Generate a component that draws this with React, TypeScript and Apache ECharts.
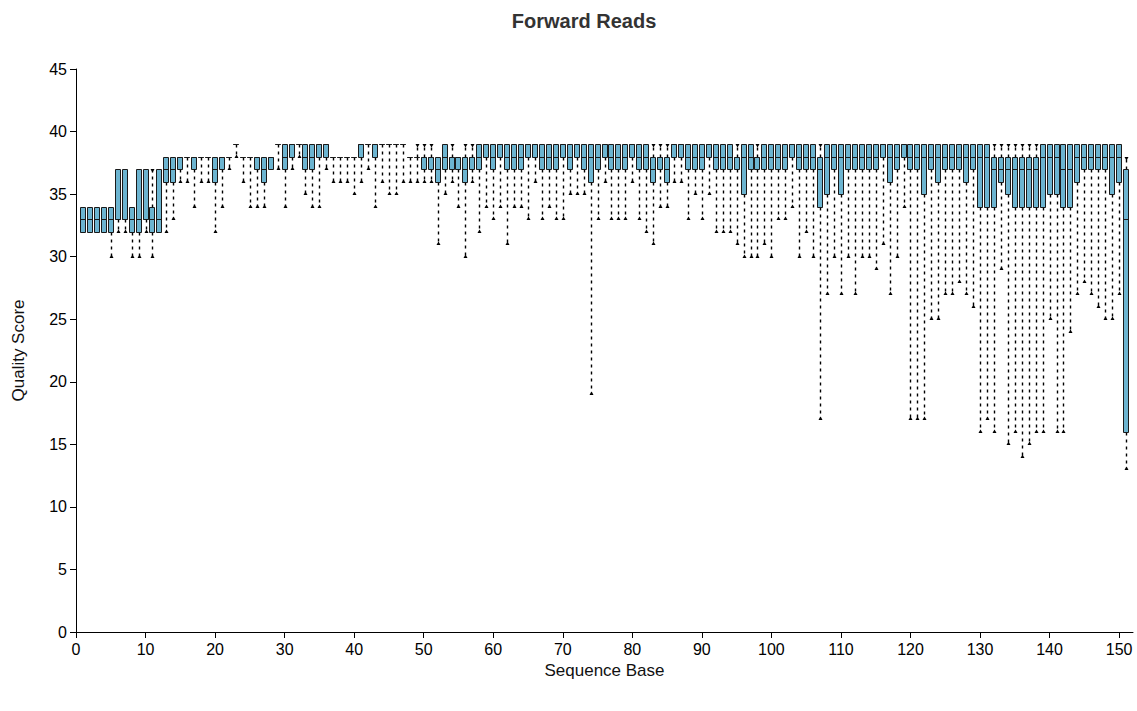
import React, { useEffect, useRef } from 'react';
import * as echarts from 'echarts';

// Per-base quality score summaries (bases 1..151)
const lowWhisker = [
  32, 32, 32, 32, 30, 32, 32, 30, 30, 32, 30, 32, 32, 33, 36, 36, 34, 36, 36, 32,
  34, 37, 38, 36, 34, 34, 34, 37, 37, 34, 37, 38, 35, 34, 34, 37, 36, 36, 36, 35,
  36, 37, 34, 36, 35, 35, 36, 36, 36, 36, 36, 31, 35, 36, 34, 30, 36, 32, 34, 33,
  34, 31, 34, 34, 33, 36, 33, 34, 33, 33, 35, 35, 35, 19, 33, 36, 33, 33, 33, 36,
  33, 32, 31, 34, 34, 36, 36, 33, 35, 33, 35, 32, 32, 32, 31, 30, 30, 30, 31, 30,
  33, 33, 34, 30, 32, 30, 17, 27, 30, 27, 30, 27, 30, 30, 29, 31, 27, 30, 34, 17,
  17, 17, 25, 25, 27, 27, 28, 27, 26, 16, 17, 16, 29, 15, 16, 14, 15, 16, 16, 25,
  16, 16, 24, 27, 28, 27, 26, 25, 25, 27, 13,
];
const q1 = [
  32, 32, 32, 32, 32, 33, 33, 32, 32, 33, 32, 32, 36, 36, 37, 38, 37, 38, 38, 36,
  37, 38, 39, 38, 38, 37, 36, 37, 39, 37, 38, 39, 37, 37, 38, 38, 38, 38, 38, 38,
  38, 39, 38, 39, 39, 39, 39, 38, 38, 37, 37, 36, 37, 37, 37, 36, 37, 37, 38, 37,
  38, 37, 37, 37, 38, 38, 37, 37, 37, 38, 37, 38, 37, 36, 37, 38, 37, 37, 37, 38,
  37, 37, 36, 37, 36, 38, 38, 37, 37, 37, 38, 37, 37, 37, 37, 35, 37, 37, 37, 37,
  37, 37, 38, 37, 37, 37, 34, 35, 37, 35, 37, 37, 37, 37, 37, 38, 36, 37, 38, 37,
  37, 35, 37, 36, 37, 37, 37, 36, 37, 34, 34, 34, 36, 35, 34, 34, 34, 34, 34, 35,
  35, 34, 34, 36, 37, 37, 37, 37, 35, 36, 16,
];
const median = [
  33, 33, 33, 33, 33, 33, 33, 33, 33, 33, 33, 33, 37, 37, 38, 38, 38, 38, 38, 37,
  38, 38, 39, 38, 38, 38, 37, 38, 39, 38, 39, 39, 38, 38, 39, 39, 38, 38, 38, 38,
  39, 39, 39, 39, 39, 39, 39, 38, 38, 38, 38, 37, 38, 38, 38, 37, 38, 38, 39, 38,
  39, 38, 38, 38, 39, 39, 38, 38, 38, 39, 38, 39, 38, 38, 38, 39, 38, 38, 38, 39,
  38, 38, 37, 38, 37, 39, 39, 38, 38, 38, 39, 38, 38, 38, 38, 38, 38, 38, 38, 38,
  38, 38, 39, 38, 38, 38, 37, 38, 38, 38, 38, 38, 38, 38, 38, 39, 38, 38, 39, 38,
  38, 38, 38, 38, 38, 38, 38, 38, 38, 38, 38, 37, 37, 37, 37, 37, 37, 37, 38, 38,
  38, 37, 37, 38, 38, 38, 38, 38, 38, 38, 33,
];
const q3 = [
  34, 34, 34, 34, 34, 37, 37, 34, 37, 37, 34, 37, 38, 38, 38, 38, 38, 38, 38, 38,
  38, 38, 39, 38, 38, 38, 38, 38, 39, 39, 39, 39, 39, 39, 39, 39, 38, 38, 38, 38,
  39, 39, 39, 39, 39, 39, 39, 38, 38, 38, 38, 38, 39, 38, 38, 38, 38, 39, 39, 39,
  39, 39, 39, 39, 39, 39, 39, 39, 39, 39, 39, 39, 39, 39, 39, 39, 39, 39, 39, 39,
  39, 39, 38, 38, 38, 39, 39, 39, 39, 39, 39, 39, 39, 39, 38, 39, 39, 38, 39, 39,
  39, 39, 39, 39, 39, 39, 38, 39, 39, 39, 39, 39, 39, 39, 39, 39, 39, 39, 39, 39,
  39, 39, 39, 39, 39, 39, 39, 39, 39, 39, 39, 38, 38, 38, 38, 38, 38, 38, 39, 39,
  39, 39, 39, 39, 39, 39, 39, 39, 39, 39, 37,
];
const highWhisker = [
  34, 34, 34, 34, 34, 37, 37, 34, 37, 37, 37, 37, 38, 38, 38, 38, 38, 38, 38, 38,
  38, 38, 39, 38, 38, 38, 38, 38, 39, 39, 39, 39, 39, 39, 39, 39, 38, 38, 38, 38,
  39, 39, 39, 39, 39, 39, 39, 38, 39, 39, 39, 38, 39, 39, 38, 39, 39, 39, 39, 39,
  39, 39, 39, 39, 39, 39, 39, 39, 39, 39, 39, 39, 39, 39, 39, 39, 39, 39, 39, 39,
  39, 39, 39, 39, 39, 39, 39, 39, 39, 39, 39, 39, 39, 39, 39, 39, 39, 39, 39, 39,
  39, 39, 39, 39, 39, 39, 39, 39, 39, 39, 39, 39, 39, 39, 39, 39, 39, 39, 39, 39,
  39, 39, 39, 39, 39, 39, 39, 39, 39, 39, 39, 39, 39, 39, 39, 39, 39, 39, 39, 39,
  39, 39, 39, 39, 39, 39, 39, 39, 39, 39, 38,
];

const xTicks = [0, 10, 20, 30, 40, 50, 60, 70, 80, 90, 100, 110, 120, 130, 140, 150];
const yTicks = [0, 5, 10, 15, 20, 25, 30, 35, 40, 45];

const FONT = "'Liberation Sans', Arial, Helvetica, sans-serif";
const BOX_FILL = '#6cb4d0';
const INK = '#000';

const crisp = (v: number) => Math.round(v) + 0.5;

export default function App() {
  const ref = useRef<HTMLDivElement>(null);

  useEffect(() => {
    if (!ref.current) return;
    const chart = echarts.init(ref.current, null, { renderer: 'svg' });

    const data = lowWhisker.map((lo, i) => [i + 1, lo, q1[i], median[i], q3[i], highWhisker[i]]);

    const renderItem = (params: any, api: any) => {
      const b = api.value(0);
      const vLow = api.value(1);
      const vQ1 = api.value(2);
      const vMed = api.value(3);
      const vQ3 = api.value(4);
      const vHigh = api.value(5);
      const yLow = crisp(api.coord([b, vLow])[1]);
      const yQ1 = crisp(api.coord([b, vQ1])[1]);
      const yMed = crisp(api.coord([b, vMed])[1]);
      const yQ3 = crisp(api.coord([b, vQ3])[1]);
      const yHigh = crisp(api.coord([b, vHigh])[1]);
      const cxi = Math.round(api.coord([b, vQ1])[0]);
      const wx = cxi + 0.5;
      const left = cxi - 2.5;
      const right = cxi + 2.5;
      const children: any[] = [];
      if (vLow < vQ1) {
        children.push({
          type: 'line',
          shape: { x1: wx, y1: yQ1, x2: wx, y2: yLow },
          style: { stroke: INK, lineWidth: 1.4, lineDash: [3, 4] },
        });
        children.push({
          type: 'polygon',
          shape: { points: [[wx - 2, yLow + 0.5], [wx + 2, yLow + 0.5], [wx, yLow - 3]] },
          style: { fill: INK },
        });
      }
      if (vHigh > vQ3) {
        children.push({
          type: 'line',
          shape: { x1: wx, y1: yQ3, x2: wx, y2: yHigh },
          style: { stroke: INK, lineWidth: 1.4, lineDash: [3, 4] },
        });
        children.push({
          type: 'polygon',
          shape: { points: [[wx - 2, yHigh - 0.5], [wx + 2, yHigh - 0.5], [wx, yHigh + 3]] },
          style: { fill: INK },
        });
      }
      children.push({
        type: 'rect',
        shape: { x: left, y: yQ3, width: right - left, height: Math.max(yQ1 - yQ3, 0.01) },
        style: { fill: BOX_FILL, stroke: '#1a1a1a', lineWidth: 1 },
      });
      children.push({
        type: 'line',
        shape: { x1: left, y1: yMed, x2: right, y2: yMed },
        style: { stroke: '#1a1a1a', lineWidth: 1 },
      });
      return { type: 'group', children };
    };

    chart.setOption({
      animation: false,
      backgroundColor: '#fff',
      textStyle: { fontFamily: FONT },
      graphic: [
        {
          type: 'text',
          x: 584,
          y: 21,
          style: {
            text: 'Forward Reads',
            align: 'center',
            verticalAlign: 'middle',
            fontSize: 20,
            fontWeight: 'bold',
            fontFamily: FONT,
            fill: '#333',
          },
        },
      ],
      grid: { left: 76, right: 4, top: 69, bottom: 79, containLabel: false },
      xAxis: {
        type: 'value',
        min: 0,
        max: 152,
        interval: 10,
        name: 'Sequence Base',
        nameLocation: 'middle',
        nameGap: 28,
        nameTextStyle: { fontSize: 17, color: '#111', fontFamily: FONT },
        axisLine: { show: true, lineStyle: { color: '#000', width: 1 } },
        axisTick: { show: true, length: 6, lineStyle: { color: '#000' } },
        axisLabel: {
          fontSize: 16,
          color: '#000',
          margin: 9,
          fontFamily: FONT,
          showMaxLabel: false,
          formatter: (v: number) => (xTicks.indexOf(v) >= 0 ? String(v) : ''),
        },
        splitLine: { show: false },
      },
      yAxis: {
        type: 'value',
        min: 0,
        max: 45,
        interval: 5,
        name: 'Quality Score',
        nameLocation: 'middle',
        nameGap: 49,
        nameTextStyle: { fontSize: 17, color: '#111', fontFamily: FONT },
        axisLine: { show: true, lineStyle: { color: '#000', width: 1 } },
        axisTick: { show: true, length: 6, lineStyle: { color: '#000' } },
        axisLabel: {
          fontSize: 16,
          color: '#000',
          margin: 9,
          fontFamily: FONT,
          formatter: (v: number) => (yTicks.indexOf(v) >= 0 ? String(v) : ''),
        },
        splitLine: { show: false },
      },
      series: [
        {
          type: 'custom',
          renderItem,
          clip: false,
          encode: { x: 0, y: [1, 2, 3, 4, 5] },
          data,
        },
      ],
    });

    return () => {
      chart.dispose();
    };
  }, []);

  return (
    <div
      ref={ref}
      style={{ position: 'fixed', left: 0, top: 0, width: 1137, height: 711, background: '#fff' }}
    />
  );
}
